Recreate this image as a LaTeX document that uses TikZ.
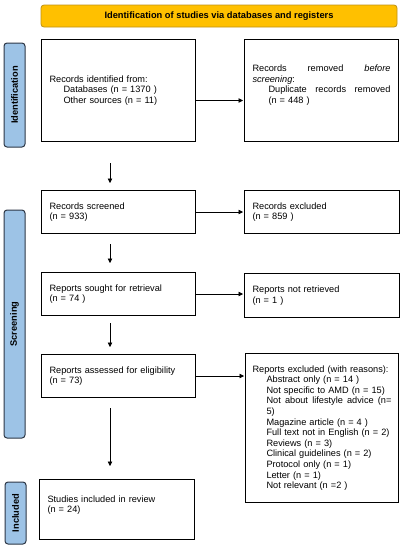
\documentclass[tikz,border=0pt]{standalone}
\usepackage{fontspec}
\setmainfont{Liberation Sans}
\usepackage{tikz}
\usetikzlibrary{arrows.meta}
\usetikzlibrary{positioning}

\definecolor{bannerfill}{RGB}{255,192,0}
\definecolor{bannerline}{RGB}{190,145,20}
\definecolor{sidefill}{RGB}{157,195,230}
\definecolor{sideline}{RGB}{45,55,70}

\hyphenpenalty=10000
\exhyphenpenalty=10000

\tikzset{
    box/.style={draw, line width=1pt, rectangle, anchor=north west, inner xsep=8pt,
        align=left, font=\fontsize{9.2}{10.6}\selectfont},
    sidebar/.style={draw=sideline, fill=sidefill, line width=1pt, rounded corners=3pt,
        rotate=90, minimum height=21pt, inner sep=0pt,
        font=\bfseries\fontsize{9.3}{10.6}\selectfont},
    flow/.style={-{Triangle[length=4.5pt,width=4.5pt]}, line width=0.6pt}
}

\newcommand{\ind}{\hspace*{14pt}}

\begin{document}
\begin{tikzpicture}[x=1pt,y=-1pt]
            \useasboundingbox (0,0) rectangle (406,550);

            \node[draw=bannerline, fill=bannerfill, line width=0.8pt, rounded corners=3pt,
                minimum width=356pt, minimum height=22pt, font=\bfseries\fontsize{9.3}{10.6}\selectfont]
                (banner) at (219,16) {Identification of studies via databases and registers};

            \node[sidebar, minimum width=104pt] (sideid) at (14.5,95) {Identification};
            \node[sidebar, minimum width=228pt] (sidescr) at (14.5,324) {Screening};
            \node[sidebar, minimum width=62pt] (sideinc) at (15.5,513) {Included};

            \node[box, minimum width=154pt, minimum height=102pt, text width=138pt] (ident) at (41,39)
                {Records identified from:\\ \ind Databases (n = 1370 )\\ \ind Other sources (n = 11)};
            \node[box, minimum width=154pt, minimum height=102pt, text width=138pt] (removed) at (244,39)
                {Records \hfill removed \hfill \textit{before}\\ \textit{screening}:\\
                 \hspace*{16pt}Duplicate \hfill records \hfill removed\\ \hspace*{16pt}(n = 448 )\\[2pt]~};

            \node[box, minimum width=154pt, minimum height=43pt, text width=138pt] (screened) at (41,190)
                {Records screened\\(n = 933)};
            \node[box, minimum width=155pt, minimum height=43pt, text width=139pt] (excluded) at (244,190)
                {Records excluded\\(n = 859 )};

            \node[box, minimum width=154pt, minimum height=43pt, text width=138pt] (sought) at (41,272)
                {Reports sought for retrieval\\(n = 74 )};
            \node[box, minimum width=155pt, minimum height=44pt, text width=139pt] (notretr) at (244,273)
                {Reports not retrieved\\(n = 1 )};

            \node[box, minimum width=154pt, minimum height=43pt, text width=138pt] (assessed) at (41,354)
                {Reports assessed for eligibility\\(n = 73)};
            \node[box, inner xsep=7pt, minimum width=153pt, minimum height=149pt, text width=139pt] (reasons) at (245,353)
                {Reports excluded (with reasons):\\
                 \ind Abstract only (n = 14 )\\
                 \ind Not specific to AMD (n = 15)\\
                 \ind Not \hfill about \hfill lifestyle \hfill advice \hfill (n=\\
                 \ind 5)\\
                 \ind Magazine article (n = 4 )\\
                 \ind Full text not in English (n = 2)\\
                 \ind Reviews (n = 3)\\
                 \ind Clinical guidelines (n = 2)\\
                 \ind Protocol only (n = 1)\\
                 \ind Letter (n = 1)\\
                 \ind Not relevant (n =2 )};

            \node[box, minimum width=155pt, minimum height=60pt, text width=139pt] (included) at (39,479)
                {Studies included in review\\(n = 24)\\ ~};

            \coordinate (spine) at (110,0);

            \draw[flow, shorten >=1pt] ([yshift=-10pt]ident.east) -- ([yshift=-10pt]removed.west);
            \foreach \a/\b in {screened/excluded,sought/notretr,assessed/reasons}{
                \draw[flow, shorten >=1pt] (\a.east) -- (\a.east -| \b.west);
            }

            \foreach \a/\b/\s/\e in {ident/screened/21/7,screened/sought/10/9,sought/assessed/7/7,assessed/included/10/13}{
                \draw[flow, shorten <=\s pt, shorten >=\e pt] (\a.south -| spine) -- (\b.north -| spine);
            }
        \end{tikzpicture}
\end{document}
